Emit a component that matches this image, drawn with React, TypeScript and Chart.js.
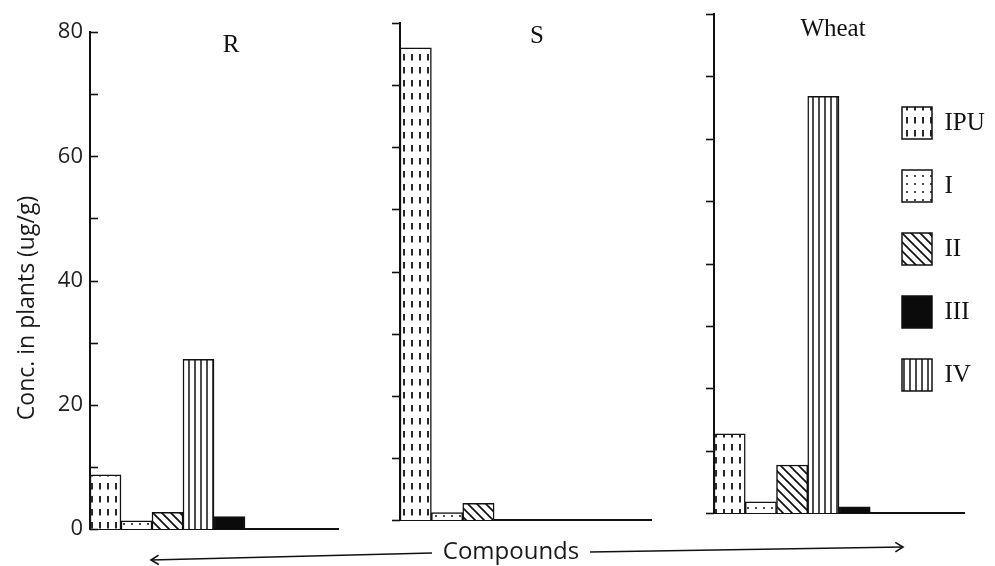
import React, { useEffect, useRef } from 'react';
import { Chart, registerables } from 'chart.js';

Chart.register(...registerables);

// ---------- data ----------
const compounds = ['IPU', 'I', 'II', 'III', 'IV'];
// left-to-right order of the bars inside each panel (trailing empty slots)
const slotOrder = ['IPU', 'I', 'II', 'IV', 'III', '', '', ''];
const rValues: (number | null)[] = [8.7, 1.3, 2.7, 2.0, 27.3];
const sValues: (number | null)[] = [76.0, 1.2, 2.7, null, null];
const wheatValues: (number | null)[] = [12.7, 1.8, 7.7, 1.0, 66.8];
const panelTitles = ['R', 'S', 'Wheat'];
const yMin = 0;
const yMax = 80;
const yStep = 10;
const yLabelStep = 20;
const yAxisTitle = 'Conc. in plants (ug/g)';
const xAxisTitle = 'Compounds';

const INK = '#111';
const SERIF = "'Liberation Serif', 'DejaVu Serif', serif";
const SANS = "'Open Sans', 'DejaVu Sans', sans-serif";

function makePattern(kind: string): CanvasPattern | string {
  if (kind === 'III') return '#0b0b0b';
  const c = document.createElement('canvas');
  let w = 8, h = 8;
  if (kind === 'IPU') { w = 8; h = 13; }
  if (kind === 'II') { w = 9; h = 9; }
  if (kind === 'IV') { w = 6; h = 6; }
  c.width = w; c.height = h;
  const g = c.getContext('2d')!;
  g.fillStyle = '#ffffff';
  g.fillRect(0, 0, w, h);
  g.strokeStyle = INK;
  g.fillStyle = INK;
  if (kind === 'IPU') {
    g.lineWidth = 1.8;
    g.beginPath(); g.moveTo(4, 2); g.lineTo(4, 8.5); g.stroke();
  } else if (kind === 'I') {
    g.beginPath(); g.arc(4, 4, 1, 0, Math.PI * 2); g.fill();
  } else if (kind === 'II') {
    g.lineWidth = 1.7;
    g.beginPath();
    g.moveTo(-1, -1); g.lineTo(w + 1, h + 1);
    g.moveTo(-1, h - 1); g.lineTo(1, h + 1);
    g.moveTo(w - 1, -1); g.lineTo(w + 1, 1);
    g.stroke();
  } else if (kind === 'IV') {
    g.lineWidth = 1.5;
    g.beginPath(); g.moveTo(3, 0); g.lineTo(3, h); g.stroke();
  }
  return g.createPattern(c, 'repeat')!;
}

function tickPlugin(dir: number, len: number) {
  return {
    id: 'tickMarks' + dir,
    afterDraw(chart: any) {
      const y = chart.scales.y;
      const left = chart.chartArea.left;
      const ctx = chart.ctx;
      ctx.save();
      ctx.strokeStyle = INK;
      ctx.lineWidth = 1.6;
      y.ticks.forEach((t: any) => {
        const py = Math.round(y.getPixelForValue(t.value)) + 0.5;
        ctx.beginPath();
        ctx.moveTo(left, py);
        ctx.lineTo(left + dir * len, py);
        ctx.stroke();
      });
      ctx.restore();
    },
  };
}

function titlePlugin(text: string, dx: number, dy: number) {
  return {
    id: 'panelTitle',
    afterDraw(chart: any) {
      const ctx = chart.ctx;
      const a = chart.chartArea;
      ctx.save();
      ctx.fillStyle = INK;
      ctx.font = `25px ${SERIF}`;
      ctx.textAlign = 'center';
      ctx.textBaseline = 'alphabetic';
      ctx.fillText(text, a.left + dx, a.top + dy);
      ctx.restore();
    },
  };
}

function arrow(ctx: CanvasRenderingContext2D, x1: number, y1: number, x2: number, y2: number, headAt: 'start' | 'end') {
  ctx.beginPath();
  ctx.moveTo(x1, y1);
  ctx.lineTo(x2, y2);
  ctx.stroke();
  const [tx, ty, fx, fy] = headAt === 'start' ? [x1, y1, x2, y2] : [x2, y2, x1, y1];
  const ang = Math.atan2(fy - ty, fx - tx);
  const L = 9;
  ctx.beginPath();
  ctx.moveTo(tx + L * Math.cos(ang - 0.55), ty + L * Math.sin(ang - 0.55));
  ctx.lineTo(tx, ty);
  ctx.lineTo(tx + L * Math.cos(ang + 0.55), ty + L * Math.sin(ang + 0.55));
  ctx.stroke();
}

const axisTitlesPlugin = {
  id: 'axisTitles',
  afterDraw(chart: any) {
    const ctx: CanvasRenderingContext2D = chart.ctx;
    ctx.save();
    ctx.fillStyle = '#1a1a1a';
    // y axis title
    ctx.save();
    ctx.translate(27, 308);
    ctx.rotate(-Math.PI / 2);
    ctx.font = `23px ${SANS}`;
    ctx.textAlign = 'center';
    ctx.textBaseline = 'middle';
    ctx.fillText(yAxisTitle, 0, 0);
    ctx.restore();
    // x axis title with arrows
    ctx.font = `24px ${SANS}`;
    ctx.textAlign = 'center';
    ctx.textBaseline = 'alphabetic';
    ctx.fillText(xAxisTitle, 511, 559);
    ctx.strokeStyle = INK;
    ctx.lineWidth = 1.6;
    arrow(ctx, 151, 560, 432, 553, 'start');
    arrow(ctx, 590, 552, 903, 547, 'end');
    ctx.restore();
  },
};

interface PanelGeom { left: number; right: number; top: number; zero: number; }
const W = 995;
const H = 566;
const Y_LABEL_W = 45;

export default function App() {
  const refs = [useRef<HTMLCanvasElement>(null), useRef<HTMLCanvasElement>(null), useRef<HTMLCanvasElement>(null), useRef<HTMLCanvasElement>(null)];

  useEffect(() => {
    const patterns: Record<string, CanvasPattern | string> = {};
    compounds.forEach((c) => { patterns[c] = makePattern(c); });

    const datasetsFor = (values: (number | null)[]) =>
      compounds.map((name, i) => ({
        label: name,
        data: slotOrder.map((s) => (s === name ? values[i] : null)),
        backgroundColor: patterns[name],
        borderColor: INK,
        borderWidth: 1.5,
        borderSkipped: 'start',
        categoryPercentage: 1,
        barPercentage: 1,
        grouped: false,
      }));

    const panels: { values: (number | null)[]; geom: PanelGeom; labels: boolean; tickDir: number; title: [number, number]; extra: any[] }[] = [
      { values: rValues, geom: { left: 90, right: 338, top: 32, zero: 529 }, labels: true, tickDir: 1, title: [141, 20], extra: [axisTitlesPlugin] },
      { values: sValues, geom: { left: 400, right: 651, top: 23, zero: 520 }, labels: false, tickDir: -1, title: [137, 20], extra: [] },
      { values: wheatValues, geom: { left: 714, right: 964, top: 14, zero: 513 }, labels: false, tickDir: -1, title: [119, 22], extra: [] },
    ];

    const charts: Chart[] = [];
    panels.forEach((p, idx) => {
      const cv = refs[idx].current!;
      const g = p.geom;
      charts.push(
        new Chart(cv, {
          type: 'bar',
          data: { labels: slotOrder, datasets: datasetsFor(p.values) as any },
          options: {
            animation: false,
            responsive: false,
            devicePixelRatio: 1,
            events: [],
            layout: { padding: { left: g.left - Y_LABEL_W, right: W - g.right, top: g.top, bottom: H - g.zero } },
            scales: {
              x: {
                type: 'category',
                offset: true,
                grid: { display: false },
                border: { display: true, color: INK, width: 2 },
                ticks: { display: false },
                afterFit: (s: any) => { s.height = 0; },
              },
              y: {
                min: yMin,
                max: yMax,
                grid: { display: false, drawTicks: false },
                border: { display: true, color: INK, width: 2 },
                ticks: {
                  display: p.labels,
                  stepSize: yStep,
                  padding: 7,
                  color: '#1e1e1e',
                  font: { family: SANS, size: 22 },
                  autoSkip: false,
                  callback: (v: any) => (Number(v) % yLabelStep === 0 ? String(v) : ''),
                },
                afterFit: (s: any) => { s.width = Y_LABEL_W; },
              },
            },
            plugins: { legend: { display: false }, tooltip: { enabled: false } },
          } as any,
          plugins: [tickPlugin(p.tickDir, 8), titlePlugin(panelTitles[idx], p.title[0], p.title[1]), ...p.extra],
        })
      );
    });

    // legend
    charts.push(
      new Chart(refs[3].current!, {
        type: 'bar',
        data: {
          labels: [],
          datasets: compounds.map((name) => ({
            label: name,
            data: [],
            backgroundColor: patterns[name],
            borderColor: INK,
            borderWidth: 1.5,
          })) as any,
        },
        options: {
          animation: false,
          responsive: false,
          devicePixelRatio: 1,
          events: [],
          layout: { padding: 0 },
          scales: { x: { display: false }, y: { display: false } },
          plugins: {
            tooltip: { enabled: false },
            legend: {
              display: true,
              position: 'left',
              align: 'start',
              labels: {
                boxWidth: 30,
                boxHeight: 32,
                padding: 31,
                color: INK,
                font: { family: SERIF, size: 25 },
              },
            },
          },
        } as any,
      })
    );

    return () => charts.forEach((c) => c.destroy());
  }, []);

  const full: React.CSSProperties = { position: 'absolute', left: 0, top: 0, width: W, height: H };
  return (
    <div style={{ position: 'fixed', left: 0, top: 0, width: W, height: H, overflow: 'hidden', background: '#fff' }}>
      <canvas ref={refs[0]} width={W} height={H} style={full} />
      <canvas ref={refs[1]} width={W} height={H} style={full} />
      <canvas ref={refs[2]} width={W} height={H} style={full} />
      <canvas ref={refs[3]} width={300} height={400} style={{ position: 'absolute', left: 871, top: 76, width: 300, height: 400 }} />
    </div>
  );
}
